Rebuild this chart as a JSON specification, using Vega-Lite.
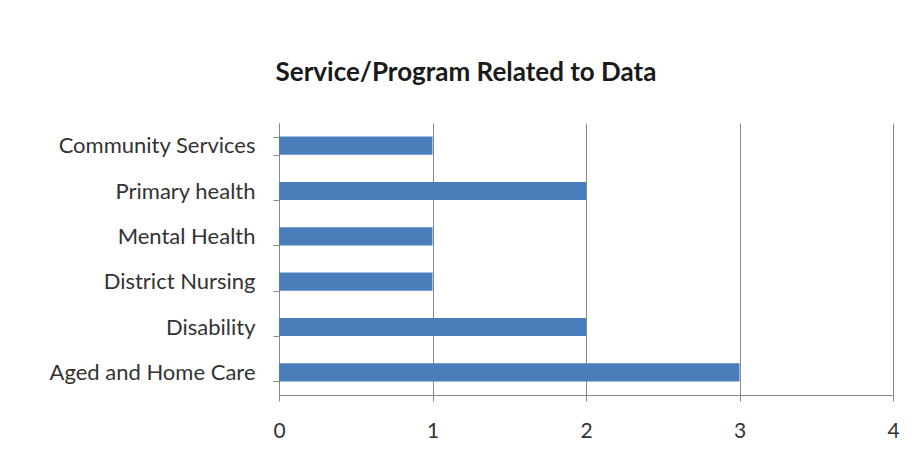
{
  "$schema": "https://vega.github.io/schema/vega-lite/v6.json",
  "autosize": "none",
  "width": 614,
  "height": 272,
  "padding": {"left": 279, "top": 123, "right": 24, "bottom": 59},
  "background": "white",
  "title": {
    "text": "Service/Program Related to Data",
    "font": "Lato",
    "fontSize": 26,
    "fontWeight": "bold",
    "color": "#1a1a1a",
    "anchor": "middle",
    "dx": -120,
    "offset": 26
  },
  "data": {
    "values": [
      {"service": "Community Services", "count": 1},
      {"service": "Primary health", "count": 2},
      {"service": "Mental Health", "count": 1},
      {"service": "District Nursing", "count": 1},
      {"service": "Disability", "count": 2},
      {"service": "Aged and Home Care", "count": 3}
    ]
  },
  "mark": {"type": "bar", "color": "#4A7EBB"},
  "encoding": {
    "y": {
      "field": "service",
      "type": "nominal",
      "sort": null,
      "title": null,
      "scale": {"paddingInner": 0.6, "paddingOuter": 0.3},
      "axis": {
        "tickBand": "extent",
        "tickSize": 6,
        "tickColor": "#888888",
        "domainColor": "#888888",
        "labelFont": "Lato",
        "labelFontSize": 22,
        "labelColor": "#333333",
        "labelPadding": 18,
        "labelLimit": 400,
        "grid": false
      }
    },
    "x": {
      "field": "count",
      "type": "quantitative",
      "title": null,
      "scale": {"domain": [0, 4], "nice": false},
      "axis": {
        "values": [0, 1, 2, 3, 4],
        "tickSize": 6,
        "tickColor": "#888888",
        "domainColor": "#888888",
        "gridColor": "#888888",
        "labelFont": "Lato",
        "labelFontSize": 21,
        "labelColor": "#333333",
        "labelPadding": 19,
        "labelFlush": false
      }
    }
  },
  "config": {
    "view": {"stroke": null},
    "axis": {"domainWidth": 1, "tickWidth": 1, "gridWidth": 1}
  }
}
